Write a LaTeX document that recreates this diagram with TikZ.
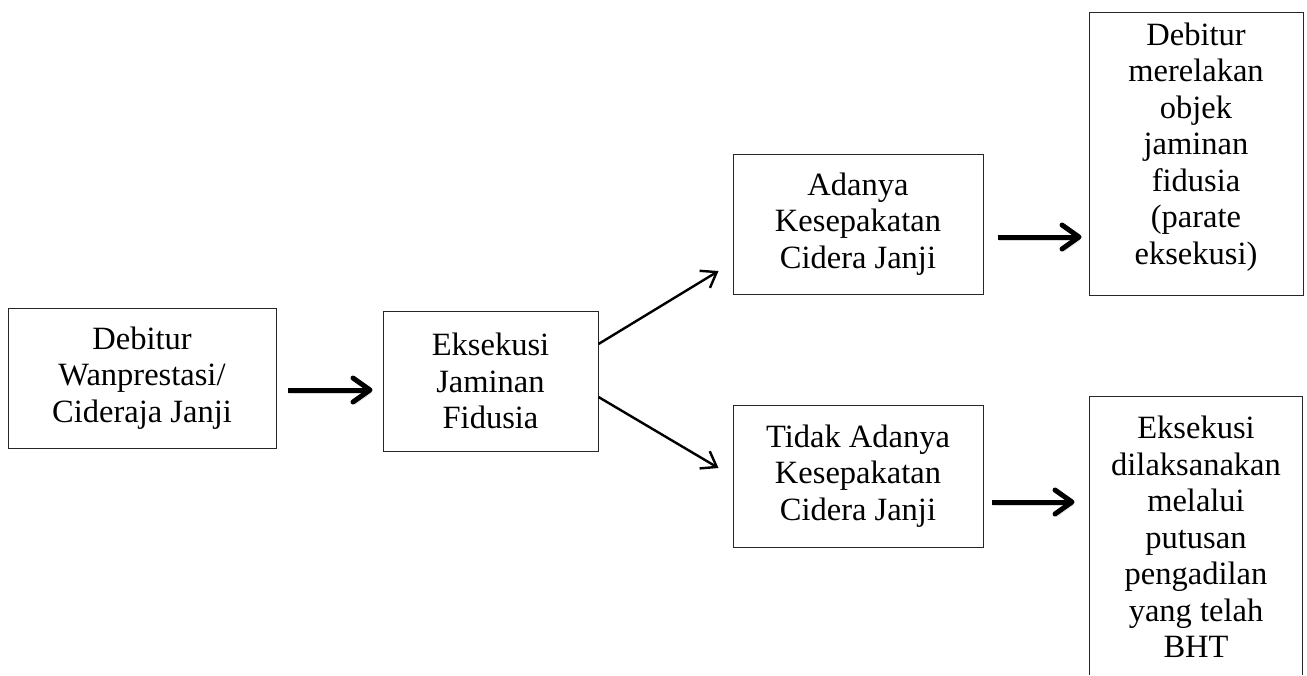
\documentclass[tikz,border=0pt]{standalone}
\usepackage{fontspec}
\setmainfont{Liberation Serif}
\usetikzlibrary{arrows.meta}
\usetikzlibrary{calc}

\begin{document}
\begin{tikzpicture}[x=1pt,y=-1pt,
	frame/.style={draw=black!85,line width=1pt},
	box/.style={frame,align=center,inner sep=0pt,font=\fontsize{32.5}{36.5}\selectfont},
	flow/.style={line width=5pt,-{Straight Barb[length=17pt,width=24pt,round]},
		preaction={draw=black!15,transform canvas={shift={(1.5,3)}}}},
	branch/.style={line width=2.4pt,-{Straight Barb[length=14pt,width=20pt]}}]
	\useasboundingbox (0,0) rectangle (1307,675);
	\coordinate (bawah) at (0,675);
	\node[box,minimum width=268pt,minimum height=140pt] (debitur) at (142,378) {Debitur\\Wanprestasi/\\Cideraja Janji};
	\node[box,minimum width=215pt,minimum height=140pt] (eksekusi) at (490.5,381) {Eksekusi\\Jaminan\\Fidusia};
	\node[box,minimum width=250pt,minimum height=140pt] (sepakat) at (858,224) {Adanya\\Kesepakatan\\Cidera Janji};
	\node[box,minimum width=250pt,minimum height=142pt] (tidaksepakat) at (858,476) {Tidak Adanya\\Kesepakatan\\Cidera Janji};
	\node[box,minimum width=214pt,minimum height=283pt,text depth=20pt] (parate) at (1196,153.5) {Debitur\\merelakan\\objek\\jaminan\\fidusia\\(parate\\eksekusi)};
	\node[box,draw=none,minimum width=212pt,minimum height=280pt] (pengadilan) at (1196,537) {Eksekusi\\dilaksanakan\\melalui\\putusan\\pengadilan\\yang telah\\BHT};
	\draw[frame] (pengadilan.west |- bawah) |- (pengadilan.north east) -- (pengadilan.east |- bawah);
	\draw[flow] ($(debitur.east)+(11,12)$) -- ($(eksekusi.west)+(-10,9)$);
	\draw[branch] ($(eksekusi.east)+(0,-37)$) -- ($(sepakat.west)+(-14,47)$);
	\draw[branch] ($(eksekusi.east)+(0,16)$) -- ($(tidaksepakat.west)+(-14,-8)$);
	\draw[flow] ($(sepakat.east)+(14,13)$) -- ($(sepakat.east -| parate.west)+(-7,13)$);
	\draw[flow] ($(tidaksepakat.east)+(8,26)$) -- ($(tidaksepakat.east -| pengadilan.west)+(-15,26)$);
\end{tikzpicture}
\end{document}
